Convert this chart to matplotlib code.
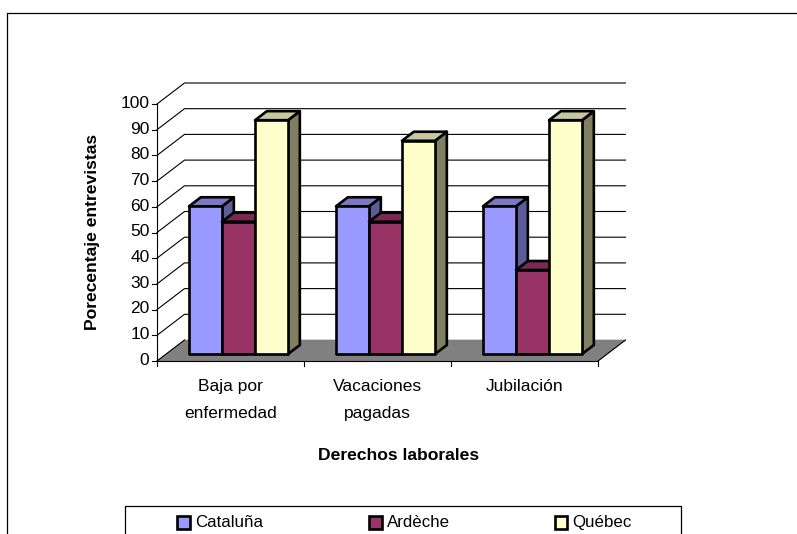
import matplotlib
matplotlib.use("Agg")
import matplotlib.pyplot as plt
from matplotlib.patches import Polygon, Rectangle
from matplotlib.lines import Line2D

plt.rcParams['font.family'] = ['Liberation Sans', 'DejaVu Sans']

categories = ["Baja por\nenfermedad", "Vacaciones\npagadas", "Jubilación"]
series_names = ["Cataluña", "Ardèche", "Québec"]
cataluna = [57.5, 57.5, 57.5]
ardeche = [51.5, 51.5, 32.7]
quebec = [91, 83, 91]
y_ticks = list(range(0, 101, 10))

front_colors = ["#9999FF", "#993366", "#FFFFCC"]
top_colors = ["#7A7AC4", "#7A2952", "#C8C8A0"]
side_colors = ["#5C5C99", "#5C1F3D", "#808060"]

W, H = 797, 534
fig = plt.figure(figsize=(W / 100, H / 100), dpi=100, facecolor="white")

# Plot box of the front plane, in figure pixels
left, right, bottom, top = 157.0, 598.0, 361.0, 104.0
ax = fig.add_axes([left / W, 1 - bottom / H, (right - left) / W, (bottom - top) / H])
ax.set_xlim(0, len(categories))
ax.set_ylim(0, 100)
ax.axis("off")

# Oblique projection: depth 1 is the back wall
dx_px, dy_px = 27.5, 21.0
ux = len(categories) / (right - left)
uy = 100 / (bottom - top)


def proj(x, y, d):
    return (x + d * dx_px * ux, y + d * dy_px * uy)


n_cat = len(categories)
black = "#000000"
kw = dict(clip_on=False)

# Floor
ax.add_patch(Polygon([proj(0, 0, 0), proj(0, 0, 1), proj(n_cat, 0, 1), proj(n_cat, 0, 0)],
                     closed=True, fc="#808080", ec="#808080", lw=0.5, zorder=1, **kw))

# Gridlines on the side and back walls
for v in y_ticks:
    xs, ys = zip(proj(0, v, 0), proj(0, v, 1), proj(n_cat, v, 1))
    if v == 0:
        xs, ys = xs[:2], ys[:2]
    ax.add_line(Line2D(xs, ys, color=black, lw=0.8, zorder=2, **kw))

# Value axis with outward ticks
tick_px = 5.0
ax.add_line(Line2D([0, 0], [0, 100], color=black, lw=0.8, zorder=3, **kw))
for v in y_ticks:
    ax.add_line(Line2D([-tick_px * ux, 0], [v, v], color=black, lw=0.8, zorder=3, **kw))
    ax.annotate(str(v), (0, v), xytext=(-7.5 * 0.72, 0.5), textcoords="offset points",
                ha="right", va="center", fontsize=12.5, color=black, annotation_clip=False)

# Category axis with outward ticks
ax.add_line(Line2D([0, n_cat], [0, 0], color=black, lw=0.8, zorder=3, **kw))
ax.add_line(Line2D([n_cat, n_cat + dx_px * ux], [0, dy_px * uy], color=black, lw=0.8, zorder=3, **kw))
for i in range(n_cat + 1):
    ax.add_line(Line2D([i, i], [0, -tick_px * uy], color=black, lw=0.8, zorder=3, **kw))
for i, name in enumerate(categories):
    ax.annotate(name, (i + 0.5, 0), xytext=(0, -13), textcoords="offset points",
                ha="center", va="top", fontsize=12.5, color=black, linespacing=2.0,
                annotation_clip=False)

# Bars: front, top and right faces
bar_w = 0.2245
gap = 0.156
d0, d1 = 0.33, 0.76
series = [cataluna, ardeche, quebec]
lw_bar = 1.9
z = 5
for c in range(n_cat):
    for s, vals in enumerate(series):
        x0 = c + gap + s * bar_w
        x1 = x0 + bar_w
        v = vals[c]
        ax.add_patch(Polygon([proj(x1, 0, d0), proj(x1, 0, d1), proj(x1, v, d1), proj(x1, v, d0)],
                             closed=True, fc=side_colors[s], ec=black, lw=lw_bar, joinstyle="round",
                             zorder=z, **kw))
        ax.add_patch(Polygon([proj(x0, v, d0), proj(x0, v, d1), proj(x1, v, d1), proj(x1, v, d0)],
                             closed=True, fc=top_colors[s], ec=black, lw=lw_bar, joinstyle="round",
                             zorder=z, **kw))
        ax.add_patch(Polygon([proj(x0, 0, d0), proj(x0, v, d0), proj(x1, v, d0), proj(x1, 0, d0)],
                             closed=True, fc=front_colors[s], ec=black, lw=lw_bar, joinstyle="round",
                             zorder=z, **kw))
        z += 1

# Axis titles
fig.text(398.5 / W, 1 - 456 / H, "Derechos laborales", ha="center", va="center",
         fontsize=12.6, fontweight="bold")
fig.text(92 / W, 1 - 232 / H, "Porecentaje entrevistas", ha="center", va="center",
         rotation=90, fontsize=12.6, fontweight="bold")

# Chart frame, cut by the image edge on the right and at the bottom
fig.add_artist(Line2D([6.5 / W, 6.5 / W, 1], [0, 1 - 12.5 / H, 1 - 12.5 / H],
                      color=black, lw=0.9, transform=fig.transFigure))

# Legend box, also cut by the bottom edge
fig.add_artist(Line2D([124.5 / W, 124.5 / W, 680.5 / W, 680.5 / W],
                      [0, 1 - 505.5 / H, 1 - 505.5 / H, 0],
                      color=black, lw=0.9, transform=fig.transFigure))
legend_x = [177, 369, 554.5]
for name, col, lx in zip(series_names, front_colors, legend_x):
    fig.add_artist(Rectangle((lx / W, 1 - 528.5 / H), 12.5 / W, 13 / H, fc=col, ec=black, lw=1.9,
                             transform=fig.transFigure))
    fig.text((lx + 18) / W, 1 - 522.5 / H, name, ha="left", va="center", fontsize=12.2)

fig.savefig("out.png", dpi=100)
